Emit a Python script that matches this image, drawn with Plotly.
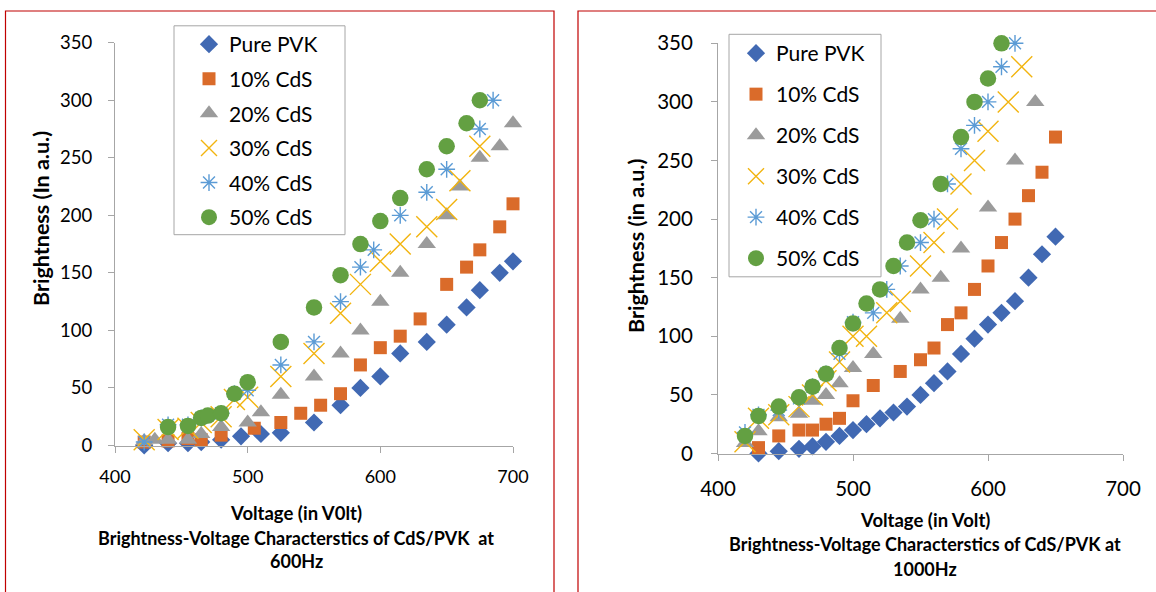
import plotly.graph_objects as go

# ---------------- data: 600 Hz (left) ----------------
pvk600_v = [422, 440, 455, 465, 480, 495, 510, 525, 550, 570, 585, 600, 615, 635, 650, 665, 675, 690, 700]
pvk600_b = [0, 2, 2, 3, 5, 8, 10, 11, 20, 35, 50, 60, 80, 90, 105, 120, 135, 150, 160]
cds10_600_v = [422, 440, 455, 465, 480, 505, 525, 540, 555, 570, 585, 600, 615, 630, 650, 665, 675, 690, 700]
cds10_600_b = [3, 4, 6, 5, 9, 15, 20, 28, 35, 45, 70, 85, 95, 110, 140, 155, 170, 190, 210]
cds20_600_v = [422, 430, 440, 455, 465, 480, 500, 510, 525, 550, 570, 585, 600, 615, 635, 650, 660, 675, 690, 700]
cds20_600_b = [4, 5, 5, 5, 10, 16, 20, 29, 44, 60, 80, 100, 125, 150, 175, 200, 225, 250, 260, 280]
cds30_600_v = [422, 440, 455, 465, 480, 490, 500, 525, 550, 570, 585, 600, 615, 635, 650, 660, 675]
cds30_600_b = [5, 14, 15, 20, 25, 40, 42, 60, 80, 115, 140, 160, 175, 190, 205, 230, 260]
cds40_600_v = [422, 440, 455, 465, 480, 490, 500, 525, 550, 570, 585, 595, 615, 635, 650, 675, 685]
cds40_600_b = [3, 18, 18, 24, 28, 45, 48, 70, 90, 125, 155, 170, 200, 220, 240, 275, 300]
cds50_600_v = [440, 455, 465, 470, 480, 490, 500, 525, 550, 570, 585, 600, 615, 635, 650, 665, 675]
cds50_600_b = [16, 17, 24, 26, 28, 45, 55, 90, 120, 148, 175, 195, 215, 240, 260, 280, 300]

# ---------------- data: 1000 Hz (right) ----------------
pvk1000_v = [430, 445, 460, 470, 480, 490, 500, 510, 520, 530, 540, 550, 560, 570, 580, 590, 600, 610, 620, 630, 640, 650]
pvk1000_b = [0, 2, 4, 6, 10, 15, 20, 25, 30, 35, 40, 50, 60, 70, 85, 98, 110, 120, 130, 150, 170, 185]
cds10_1000_v = [430, 445, 460, 470, 480, 490, 500, 515, 535, 550, 560, 570, 580, 590, 600, 610, 620, 630, 640, 650]
cds10_1000_b = [5, 15, 20, 20, 25, 30, 45, 58, 70, 80, 90, 110, 120, 140, 160, 180, 200, 220, 240, 270]
cds20_1000_v = [420, 430, 445, 460, 470, 480, 490, 500, 515, 535, 550, 565, 580, 600, 620, 635]
cds20_1000_b = [9, 19, 31, 34, 45, 50, 60, 73, 85, 115, 140, 150, 175, 210, 250, 300]
cds30_1000_v = [420, 430, 445, 460, 470, 480, 490, 500, 510, 525, 535, 550, 560, 570, 580, 590, 600, 615, 625]
cds30_1000_b = [10, 30, 33, 40, 50, 62, 78, 100, 100, 120, 130, 160, 180, 200, 230, 250, 275, 300, 330]
cds40_1000_v = [420, 430, 445, 460, 470, 480, 490, 500, 515, 525, 535, 550, 560, 570, 580, 590, 600, 610, 620]
cds40_1000_b = [18, 33, 37, 47, 57, 68, 85, 112, 120, 140, 160, 180, 200, 230, 260, 280, 300, 330, 350]
cds50_1000_v = [420, 430, 445, 460, 470, 480, 490, 500, 510, 520, 530, 540, 550, 565, 580, 590, 600, 610]
cds50_1000_b = [15, 32, 40, 48, 57, 68, 90, 111, 128, 140, 160, 180, 199, 230, 270, 300, 320, 350]

series_names = ["Pure PVK", "10% CdS", "20% CdS", "30% CdS", "40% CdS", "50% CdS"]
x_ticks = [400, 500, 600, 700]
y_ticks = [0, 50, 100, 150, 200, 250, 300, 350]

left_data = [(pvk600_v, pvk600_b), (cds10_600_v, cds10_600_b), (cds20_600_v, cds20_600_b),
             (cds30_600_v, cds30_600_b), (cds40_600_v, cds40_600_b), (cds50_600_v, cds50_600_b)]
right_data = [(pvk1000_v, pvk1000_b), (cds10_1000_v, cds10_1000_b), (cds20_1000_v, cds20_1000_b),
              (cds30_1000_v, cds30_1000_b), (cds40_1000_v, cds40_1000_b), (cds50_1000_v, cds50_1000_b)]

# ---------------- styles ----------------
FONT = "Lato"
W, H = 1156, 592
BLUE, ORANGE, GRAY, YELLOW, LBLUE, GREEN = "#4169B3", "#DA6B2A", "#9B9B9B", "#F2B40F", "#5B9BD5", "#63A042"
styles = [
    dict(symbol="diamond", size=14, color=BLUE),
    dict(symbol="square", size=13, color=ORANGE),
    dict(symbol="triangle-up", size=16, color=GRAY),
    dict(symbol="x-thin-open", size=21, color=YELLOW, line=dict(color=YELLOW, width=1.4)),
    dict(symbol="asterisk-open", size=14, color=LBLUE, line=dict(color=LBLUE, width=1.4)),
    dict(symbol="circle", size=16.5, color=GREEN),
]


def px(x):
    return x / W


def py(y):
    return 1 - y / H


fig = go.Figure()
for i, ((v, b), st) in enumerate(zip(left_data, styles)):
    fig.add_trace(go.Scatter(x=v, y=b, mode="markers", name=series_names[i], marker=st,
                             xaxis="x", yaxis="y", legend="legend", legendgroup="L%d" % i,
                             cliponaxis=False))
for i, ((v, b), st) in enumerate(zip(right_data, styles)):
    fig.add_trace(go.Scatter(x=v, y=b, mode="markers", name=series_names[i], marker=st,
                             xaxis="x2", yaxis="y2", legend="legend2", legendgroup="R%d" % i,
                             cliponaxis=False))

AX_COL = "#A6A6A6"


def xax(domain, anchor, fs, standoff):
    return dict(domain=domain, anchor=anchor, range=[400, 700], tickvals=x_ticks,
                ticks="outside", ticklen=6, tickcolor=AX_COL, showline=True, linecolor=AX_COL,
                linewidth=1, showgrid=False, zeroline=False,
                tickfont=dict(family=FONT, size=fs, color="#000"), ticklabelstandoff=standoff)


def yax(domain, anchor, fs, standoff):
    return dict(domain=domain, anchor=anchor, range=[0, 350], tickvals=y_ticks,
                ticks="outside", ticklen=6, tickcolor=AX_COL, showline=True, linecolor=AX_COL,
                linewidth=1, showgrid=False, zeroline=False,
                tickfont=dict(family=FONT, size=fs, color="#000"), ticklabelstandoff=standoff)


fig.update_layout(
    width=W, height=H, margin=dict(l=0, r=0, t=0, b=0, autoexpand=False),
    paper_bgcolor="white", plot_bgcolor="white",
    font=dict(family=FONT, color="#000"),
    xaxis=xax([px(115), px(513)], "y", 18, 9),
    yaxis=yax([py(445.5), py(42.7)], "x", 18.5, 12),
    xaxis2=xax([px(718), px(1123)], "y2", 20.5, 11),
    yaxis2=yax([py(453.5), py(43.3)], "x2", 20.5, 14),
    legend=dict(x=px(189), y=py(24), xanchor="left", yanchor="top",
                font=dict(family=FONT, size=21, color="#000"), bgcolor="rgba(0,0,0,0)",
                borderwidth=0, traceorder="grouped", tracegroupgap=4.3),
    legend2=dict(x=px(736), y=py(33), xanchor="left", yanchor="top",
                 font=dict(family=FONT, size=21, color="#000"), bgcolor="rgba(0,0,0,0)",
                 borderwidth=0, traceorder="grouped", tracegroupgap=10.7),
)

shapes = [
    # legend boxes
    dict(type="rect", xref="paper", yref="paper", x0=px(174), x1=px(345), y0=py(25.8), y1=py(234.7),
         line=dict(color=AX_COL, width=1), fillcolor="rgba(0,0,0,0)", layer="above"),
    dict(type="rect", xref="paper", yref="paper", x0=px(729), x1=px(881), y0=py(34.3), y1=py(276.8),
         line=dict(color=AX_COL, width=1), fillcolor="rgba(0,0,0,0)", layer="above"),
    # red frames
    dict(type="rect", xref="paper", yref="paper", x0=px(5.5), x1=px(554), y0=py(11), y1=py(610),
         line=dict(color="#C00000", width=1.2), fillcolor="rgba(0,0,0,0)", layer="below"),
    dict(type="rect", xref="paper", yref="paper", x0=px(578), x1=px(1170), y0=py(11), y1=py(610),
         line=dict(color="#C00000", width=1.2), fillcolor="rgba(0,0,0,0)", layer="below"),
]
fig.update_layout(shapes=shapes)


def ann(text, x, y, size, angle=0):
    return dict(text=text, x=px(x), y=py(y), xref="paper", yref="paper", showarrow=False,
                xanchor="center", yanchor="middle", textangle=angle,
                font=dict(family=FONT, size=size, color="#000"))


annotations = [
    ann("<b>Brightness (In a.u.)</b>", 41, 219, 21.5, -90),
    ann("<b>Voltage (in V0lt)</b>", 296, 512.6, 18.5),
    ann("<b>Brightness-Voltage Characterstics of CdS/PVK  at</b>", 296, 537.8, 18),
    ann("<b>600Hz</b>", 296, 561, 18),
    ann("<b>Brightness (in a.u.)</b>", 636, 246, 21.5, -90),
    ann("<b>Voltage (in Volt)</b>", 925, 520, 18.5),
    ann("<b>Brightness-Voltage Characterstics of CdS/PVK at</b>", 925, 543.7, 18),
    ann("<b>1000Hz</b>", 925, 568.5, 18),
]
fig.update_layout(annotations=annotations)

fig.write_html(
    "out.html",
    config={"responsive": False},
    post_script="document.body.style.margin='0';document.body.style.padding='0';"
                "document.body.style.overflow='hidden';document.documentElement.style.overflow='hidden';",
)
